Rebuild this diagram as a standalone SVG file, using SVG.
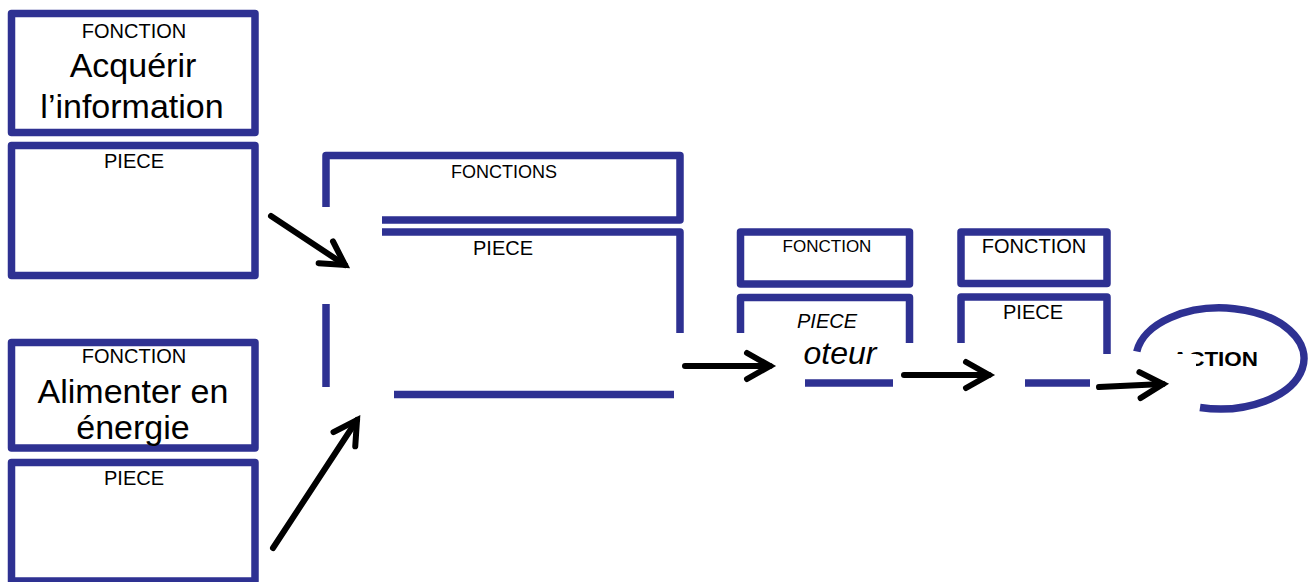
<svg xmlns="http://www.w3.org/2000/svg" width="1311" height="582" viewBox="0 0 1311 582">
<defs>
<style>
.b{fill:none;stroke:#2e3192;stroke-width:7.5;stroke-linejoin:round}
.t{font-family:"Liberation Sans",Arial,sans-serif;fill:#000;text-anchor:middle}
.a{fill:none;stroke:#000;stroke-width:6;stroke-linecap:round}
</style>
<marker id="ah" markerUnits="userSpaceOnUse" markerWidth="40" markerHeight="40" viewBox="-30 -20 40 40" refX="0" refY="0" orient="auto" overflow="visible">
<path d="M-23,-13 L0,0 L-23,13" fill="none" stroke="#000" stroke-width="6" stroke-linecap="round" stroke-linejoin="miter"/>
</marker>
<clipPath id="cl">
<rect x="1196" y="300" width="115" height="120"/>
<rect x="1100" y="300" width="211" height="54"/>
</clipPath>
</defs>
<rect width="1311" height="582" fill="#fff"/>

<g id="node-acquerir">
<rect class="b" x="11.5" y="13.5" width="243.5" height="119"/>
<text class="t" x="134" y="38" font-size="20">FONCTION</text>
<text class="t" x="133" y="77" font-size="34">Acquérir</text>
<text class="t" x="132" y="118" font-size="34">l’information</text>
</g>
<g id="node-acquerir-piece">
<rect class="b" x="11.5" y="145.5" width="243.5" height="130"/>
<text class="t" x="134" y="168" font-size="20">PIECE</text>
</g>

<g id="node-alimenter">
<rect class="b" x="11.5" y="342.5" width="243.5" height="105.5"/>
<text class="t" x="134" y="363" font-size="20">FONCTION</text>
<text class="t" x="133" y="403" font-size="34">Alimenter en</text>
<text class="t" x="133" y="439" font-size="34">énergie</text>
</g>
<g id="node-alimenter-piece">
<rect class="b" x="11.5" y="462.5" width="243.5" height="118.5"/>
<text class="t" x="134" y="485" font-size="20">PIECE</text>
</g>

<g id="node-fonctions">
<path class="b" d="M326,207 V155.5 H680 V220 H382"/>
<text class="t" x="504" y="178" font-size="18">FONCTIONS</text>
</g>
<g id="node-fonctions-piece">
<path class="b" d="M382,232 H680 V333"/>
<path class="b" d="M326,304 V387"/>
<path class="b" d="M394,394.5 H674"/>
<text class="t" x="503" y="255" font-size="20">PIECE</text>
</g>

<g id="node-moteur-fonction">
<rect class="b" x="740.5" y="232" width="169" height="52"/>
<text class="t" x="827" y="252" font-size="17">FONCTION</text>
</g>
<g id="node-moteur-piece">
<path class="b" d="M740.5,333 V297.5 H909.5 V343"/>
<path class="b" d="M805,383 H893"/>
<text class="t" x="827" y="328" font-size="20" font-style="italic">PIECE</text>
<text class="t" x="840" y="364" font-size="32" font-style="italic">oteur</text>
</g>

<g id="node-fonction3">
<rect class="b" x="961" y="232" width="146" height="51.5"/>
<text class="t" x="1034" y="253" font-size="20">FONCTION</text>
</g>
<g id="node-piece3">
<path class="b" d="M961,343 V297 H1107 V354"/>
<path class="b" d="M1025,383 H1090"/>
<text class="t" x="1033" y="319" font-size="20">PIECE</text>
</g>

<g id="node-action">
<path class="b" d="M1136.8,351.5 A84,50.5 0 1 1 1200,407.5"/>
<text x="1172" y="366" font-size="20" font-weight="bold" font-family="Liberation Sans, Arial, sans-serif" textLength="86" lengthAdjust="spacingAndGlyphs" clip-path="url(#cl)">ACTION</text>
</g>

<g id="connectors">
<line class="a" x1="271" y1="216" x2="345" y2="265" marker-end="url(#ah)"/>
<line class="a" x1="273" y1="548" x2="357" y2="420" marker-end="url(#ah)"/>
<line class="a" x1="685" y1="366" x2="770" y2="366" marker-end="url(#ah)"/>
<line class="a" x1="904" y1="375" x2="989" y2="375" marker-end="url(#ah)"/>
<line class="a" x1="1099" y1="387" x2="1163" y2="384" marker-end="url(#ah)"/>
</g>
</svg>
